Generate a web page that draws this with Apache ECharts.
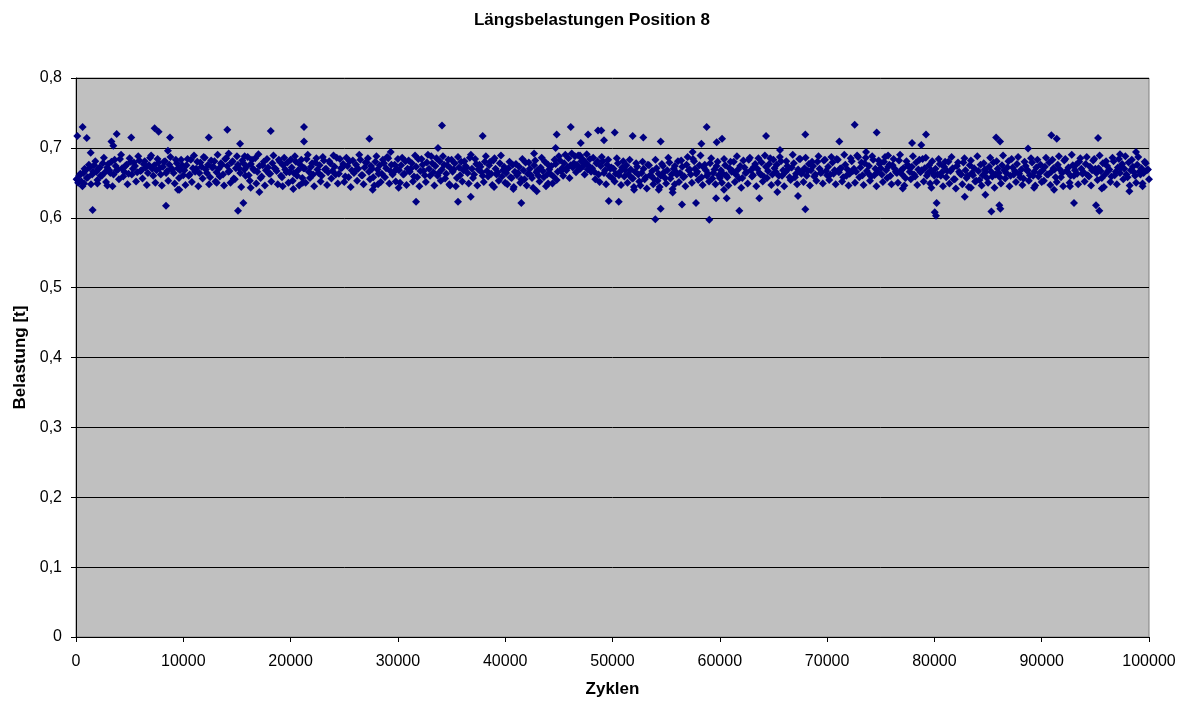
<!DOCTYPE html>
<html>
<head>
<meta charset="utf-8">
<script src="https://cdn.jsdelivr.net/npm/echarts@6/dist/echarts.min.js"></script>
<style>
  html, body { margin: 0; padding: 0; background: #fff; }
  #chart { width: 1184px; height: 704px; }
</style>
</head>
<body>
<div id="chart"></div>
<script>
// Längsbelastung an Position 8, aufgezeichnet alle 100 Zyklen
// (zwei verschränkte Messreihen: ungerade und gerade Hunderter)
const zyklenSchritt = 200;
const startReiheA = 100;
const startReiheB = 200;

// Reihe A: Belastung [t], eine Zeile pro 10000 Zyklen
const belastungA = [
  .655,.660,.652,.664,.668,.658,.672,.662,.675,.666,.670,.660,.678,.665,.672,.668,.680,.662,.674,.669,.684,.671,.666,.676,.663,.680,.670,.674,.665,.682,.668,.677,.672,.664,.686,.670,.675,.668,.679,.662,.673,.681,.667,.676,.670,.664,.683,.671,.668,.675,
  .668,.675,.660,.683,.671,.666,.680,.664,.673,.687,.669,.676,.658,.672,.681,.665,.670,.678,.662,.684,.674,.667,.679,.656,.671,.676,.664,.682,.669,.673,.661,.677,.670,.685,.666,.674,.659,.680,.668,.672,.663,.678,.671,.667,.683,.660,.675,.669,.679,.665,
  .672,.664,.680,.668,.676,.657,.671,.684,.666,.673,.662,.679,.669,.675,.660,.682,.670,.665,.678,.667,.673,.686,.663,.671,.677,.659,.674,.681,.668,.664,.676,.670,.683,.661,.672,.679,.666,.674,.658,.680,.669,.675,.663,.678,.671,.685,.667,.662,.676,.670,
  .668,.675,.662,.681,.670,.666,.678,.659,.673,.684,.667,.676,.661,.679,.670,.688,.665,.674,.660,.681,.669,.676,.663,.683,.671,.666,.678,.657,.672,.680,.668,.674,.664,.686,.670,.662,.677,.669,.673,.660,.680,.667,.675,.663,.682,.670,.665,.678,.659,.673,
  .664,.671,.658,.676,.666,.661,.673,.655,.668,.679,.663,.670,.657,.675,.665,.660,.672,.667,.680,.662,.669,.674,.659,.677,.666,.682,.671,.678,.668,.685,.675,.672,.688,.676,.670,.681,.674,.679,.669,.684,.671,.666,.678,.662,.674,.681,.668,.676,.660,.672,
  .670,.663,.678,.666,.672,.659,.675,.662,.669,.656,.666,.673,.652,.664,.670,.658,.676,.661,.667,.655,.671,.663,.660,.674,.657,.668,.679,.662,.670,.666,.681,.664,.673,.659,.676,.668,.662,.684,.670,.666,.675,.658,.672,.668,.663,.678,.656,.669,.674,.661,
  .668,.663,.675,.658,.671,.666,.680,.662,.669,.674,.657,.672,.665,.683,.668,.661,.677,.670,.664,.679,.659,.673,.667,.685,.662,.671,.676,.660,.681,.668,.665,.674,.658,.672,.678,.663,.669,.684,.666,.671,.660,.677,.668,.674,.662,.680,.670,.665,.682,.667,
  .673,.662,.679,.668,.684,.665,.671,.658,.676,.669,.663,.681,.670,.666,.687,.672,.661,.678,.667,.674,.659,.683,.670,.665,.677,.662,.680,.668,.673,.660,.675,.670,.664,.682,.668,.671,.657,.676,.666,.673,.662,.679,.669,.665,.684,.671,.660,.675,.668,.663,
  .670,.662,.677,.665,.673,.658,.680,.667,.671,.655,.674,.666,.662,.679,.668,.660,.675,.664,.671,.653,.667,.676,.661,.669,.657,.673,.666,.679,.662,.670,.658,.675,.668,.664,.681,.660,.672,.667,.677,.663,.669,.656,.674,.668,.661,.679,.666,.672,.659,.676,
  .668,.673,.662,.679,.666,.671,.658,.676,.669,.664,.682,.667,.672,.660,.675,.668,.663,.680,.670,.665,.677,.661,.673,.668,.684,.664,.671,.667,.678,.662,.674,.669,.659,.681,.666,.672,.664,.677,.670,.662,.679,.668,.673,.660,.676,.666,.671,.664,.678,.669
];

// Reihe B: Belastung [t], eine Zeile pro 10000 Zyklen
const belastungB = [
  .650,.663,.645,.670,.657,.676,.648,.666,.681,.654,.672,.660,.686,.651,.677,.664,.645,.683,.668,.655,.690,.659,.674,.648,.685,.662,.679,.652,.688,.667,.656,.681,.647,.675,.689,.660,.650,.684,.671,.646,.680,.664,.653,.687,.669,.649,.678,.657,.683,.661,
  .647,.684,.662,.651,.689,.670,.645,.679,.656,.686,.664,.648,.682,.673,.652,.690,.659,.676,.646,.685,.666,.650,.681,.655,.688,.671,.644,.678,.660,.687,.653,.683,.668,.649,.691,.657,.675,.646,.684,.663,.652,.689,.670,.648,.680,.658,.686,.665,.650,.683,
  .653,.688,.660,.646,.683,.671,.650,.690,.657,.678,.645,.685,.664,.652,.687,.669,.647,.681,.656,.689,.662,.649,.684,.672,.651,.686,.658,.644,.682,.667,.653,.690,.661,.648,.679,.685,.655,.670,.646,.688,.663,.651,.683,.658,.687,.649,.676,.665,.652,.684,
  .650,.686,.663,.647,.682,.670,.652,.689,.658,.645,.684,.667,.651,.690,.660,.678,.646,.685,.664,.653,.688,.656,.675,.648,.683,.669,.645,.687,.661,.652,.681,.672,.649,.690,.657,.684,.646,.676,.665,.651,.688,.659,.680,.647,.685,.662,.653,.689,.668,.650,
  .648,.680,.657,.644,.677,.664,.650,.684,.655,.646,.679,.661,.643,.682,.668,.652,.686,.658,.645,.676,.663,.649,.683,.654,.688,.667,.660,.690,.672,.657,.692,.678,.665,.689,.670,.684,.662,.691,.674,.666,.686,.655,.681,.651,.687,.664,.648,.683,.670,.656,
  .652,.685,.661,.647,.681,.668,.650,.683,.657,.644,.678,.662,.646,.680,.655,.642,.675,.660,.648,.683,.653,.644,.677,.665,.649,.686,.656,.641,.674,.662,.651,.682,.658,.645,.687,.669,.650,.681,.663,.654,.689,.647,.676,.660,.652,.685,.664,.648,.680,.657,
  .650,.684,.661,.646,.680,.667,.651,.688,.656,.643,.682,.664,.649,.686,.659,.673,.645,.685,.662,.652,.689,.657,.677,.647,.683,.666,.650,.687,.660,.645,.681,.670,.654,.690,.658,.648,.684,.663,.651,.686,.667,.646,.680,.659,.653,.688,.664,.649,.683,.661,
  .654,.687,.663,.648,.683,.670,.652,.690,.660,.646,.685,.667,.650,.689,.658,.679,.647,.686,.664,.653,.688,.661,.645,.682,.671,.651,.687,.657,.676,.648,.684,.666,.650,.690,.662,.646,.681,.673,.655,.688,.659,.647,.683,.668,.652,.686,.664,.649,.681,.660,
  .651,.684,.660,.645,.680,.667,.649,.687,.655,.642,.679,.663,.648,.685,.657,.644,.682,.661,.652,.688,.654,.646,.678,.666,.650,.686,.659,.643,.681,.664,.649,.689,.656,.672,.645,.684,.662,.651,.687,.658,.647,.680,.668,.653,.685,.660,.646,.683,.664,.651,
  .653,.686,.662,.647,.683,.669,.651,.688,.658,.645,.684,.666,.650,.690,.660,.676,.648,.685,.663,.652,.687,.659,.646,.682,.670,.654,.689,.657,.644,.681,.667,.651,.686,.661,.648,.684,.672,.655,.688,.658,.646,.683,.665,.650,.687,.662,.649,.680,.668,.655
];

// Einzelne Spitzenwerte ausserhalb des Hauptbandes: [Zyklus, Belastung]
const spitzen = [
  [120,.717],[620,.730],[1000,.714],[1370,.693],[1550,.611],[60,.655],[750,.649],[1990,.649],[2920,.646],
  [3300,.709],[3480,.703],[3790,.720],[5150,.715],[7330,.728],[7700,.723],[8570,.696],[8760,.715],[8390,.617],[9500,.640],[9630,.640],
  [12370,.715],[14100,.726],[14230,.692],[15290,.706],[15720,.688],[18150,.724],[13110,.650],[15100,.610],[15600,.621],[16280,.643],[17090,.637],[19260,.645],
  [21250,.730],[21250,.709],[27340,.713],[29330,.694],[20250,.641],[21130,.650],[27650,.640],[28150,.648],
  [34110,.732],[33740,.700],[37900,.717],[30070,.643],[31690,.623],[34860,.646],[35600,.623],[36790,.630],[38960,.644],
  [46110,.730],[44800,.719],[44700,.700],[42690,.692],[47040,.707],[47720,.719],[48650,.725],[48960,.725],[49210,.711],[46970,.689],
  [40760,.641],[41500,.621],[42940,.638],[44000,.649],[49650,.624],
  [50210,.722],[51880,.717],[52870,.715],[54490,.709],[57470,.694],[58280,.706],[58780,.730],[59710,.708],
  [50580,.623],[52010,.640],[54310,.640],[54490,.613],[53990,.598],[55610,.636],[55800,.648],[56480,.619],[57780,.621],[59020,.597],[59650,.628],
  [60210,.713],[64310,.717],[65610,.697],[67970,.719],[60390,.640],[60640,.628],[61820,.610],[63680,.628],[65360,.637],[67290,.631],[67970,.612],
  [71140,.709],[72570,.733],[73630,.694],[74620,.722],[75680,.689],[77920,.707],[78780,.704],[79220,.719],[77050,.642],[79720,.643],
  [80030,.608],[80150,.603],[80210,.621],[82830,.630],[84750,.633],[85310,.609],[86050,.618],[86150,.613],[85750,.715],[86120,.709],[88730,.699],[89290,.643],[83400,.643],
  [90900,.718],[91400,.713],[95250,.714],[97300,.691],[98790,.694],[91150,.640],[92640,.645],[93010,.621],[95060,.618],[95370,.610],[95600,.642],[98170,.638],[99400,.645]
];

const messpunkte = belastungA.map((b, i) => [startReiheA + i * zyklenSchritt, b])
  .concat(belastungB.map((b, i) => [startReiheB + i * zyklenSchritt, b]))
  .concat(spitzen);

const chart = echarts.init(document.getElementById('chart'), null, { renderer: 'canvas' });
const schrift = 'Arial, "Liberation Sans", sans-serif';

chart.setOption({
  animation: false,
  backgroundColor: '#ffffff',
  title: {
    text: 'Längsbelastungen Position 8',
    left: 'center',
    top: 7,
    textStyle: { fontFamily: schrift, fontSize: 17, fontWeight: 'bold', color: '#000' }
  },
  grid: {
    left: 76, right: 35, top: 78, bottom: 67,
    show: true, backgroundColor: '#c0c0c0', borderColor: '#808080', borderWidth: 1
  },
  xAxis: {
    type: 'value',
    min: 0, max: 100000, interval: 10000,
    name: 'Zyklen',
    nameLocation: 'middle',
    nameGap: 44,
    nameTextStyle: { fontFamily: schrift, fontSize: 17, fontWeight: 'bold', color: '#000' },
    axisLine: { show: true, onZero: false, lineStyle: { color: '#000', width: 1 } },
    axisTick: { show: true, inside: false, length: 5, lineStyle: { color: '#000' } },
    axisLabel: { fontFamily: schrift, fontSize: 16, color: '#000', margin: 17, formatter: v => String(v) },
    splitLine: { show: false }
  },
  yAxis: {
    type: 'value',
    min: 0, max: 0.8, interval: 0.1,
    name: 'Belastung [t]',
    nameLocation: 'middle',
    nameRotate: 90,
    nameGap: 47,
    nameTextStyle: { fontFamily: schrift, fontSize: 17, fontWeight: 'bold', color: '#000' },
    axisLine: { show: true, lineStyle: { color: '#000', width: 1 } },
    axisTick: { show: true, inside: false, length: 5, lineStyle: { color: '#000' } },
    axisLabel: {
      fontFamily: schrift, fontSize: 16, color: '#000', margin: 14,
      formatter: v => (Math.round(v * 10) / 10).toString().replace('.', ',')
    },
    splitLine: { show: true, lineStyle: { color: '#000', width: 1 } }
  },
  series: [{
    type: 'scatter',
    data: messpunkte,
    symbol: 'diamond',
    symbolSize: 8,
    itemStyle: { color: '#000080', opacity: 1 },
    emphasis: { disabled: true }
  }]
});
</script>
</body>
</html>
